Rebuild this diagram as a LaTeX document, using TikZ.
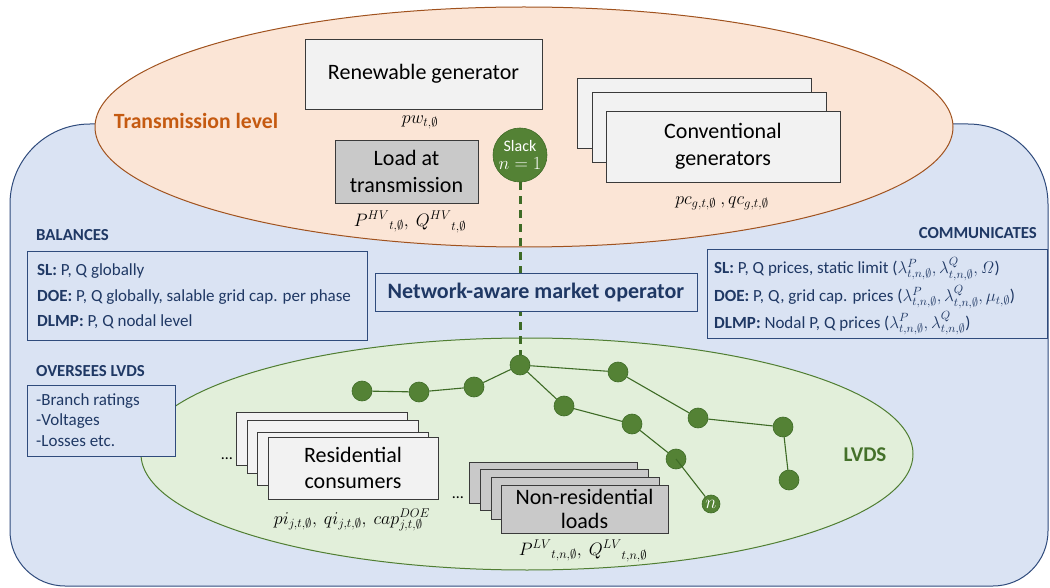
\RequirePackage{fix-cm}
\documentclass[tikz,border=0pt]{standalone}
\usepackage[no-math]{fontspec}
\setmainfont{Carlito}
\usetikzlibrary{shapes.geometric}
\definecolor{bgblue}{HTML}{DAE3F3}
\definecolor{navyline}{HTML}{2F4B7C}
\definecolor{navy}{HTML}{1F3864}
\definecolor{orfill}{HTML}{FBE5D6}
\definecolor{orline}{HTML}{A0521E}
\definecolor{ortext}{HTML}{C55A11}
\definecolor{grfill}{HTML}{E2EFDA}
\definecolor{grline}{HTML}{507E32}
\definecolor{nodegreen}{HTML}{548235}
\definecolor{nodedark}{HTML}{3E6B26}
\definecolor{lvdstext}{HTML}{44712A}
\definecolor{boxfill}{HTML}{F2F2F2}
\definecolor{grayfill}{HTML}{C9C9C9}
\definecolor{boxline}{HTML}{3A3A3A}
\tikzset{
  box/.style={draw=boxline, line width=0.9pt, fill=boxfill, align=center, inner sep=0pt, font=\fontsize{22}{26.5}\selectfont},
  graybox/.style={box, fill=grayfill},
  bus/.style={circle, fill=nodegreen, draw=nodedark, line width=0.6pt, minimum size=20pt, inner sep=0pt},
  branch/.style={draw=nodedark, line width=1.1pt},
  infobox/.style={draw=navyline, line width=0.9pt, fill=bgblue, inner sep=0pt},
  infotext/.style={text=navy, anchor=base west, inner sep=0pt, font=\fontsize{17}{20}\selectfont},
  heading/.style={text=navy, inner sep=0pt, font=\bfseries\fontsize{16.8}{19}\selectfont},
  mathlabel/.style={inner sep=0pt, font=\fontsize{18}{21}\selectfont},
  dots/.style={inner sep=0pt, font=\fontsize{16}{18}\selectfont},
}
\begin{document}
\begin{tikzpicture}[x=1pt,y=-1pt]
\useasboundingbox (0,0) rectangle (1050,588);
% outer blue region
\path[draw=navyline, line width=1pt, fill=bgblue]
  (90,124) -- (968,124) arc[start angle=90,end angle=0,radius=80pt]
  -- (1048,531) arc[start angle=0,end angle=-90,radius=55pt]
  -- (65,586) arc[start angle=-90,end angle=-180,radius=55pt]
  -- (10,204) arc[start angle=180,end angle=90,radius=80pt] -- cycle;
% transmission ellipse
\draw[fill=orfill, draw=orline, line width=1pt] (524,127) ellipse [x radius=429pt, y radius=120pt];
% LVDS ellipse
\draw[fill=grfill, draw=grline, line width=1pt] (527,454) ellipse [x radius=386pt, y radius=116pt];

\node[text=ortext, inner sep=0pt, font=\bfseries\fontsize{21.7}{24}\selectfont] (tl) at (196,121) {Transmission level};
\node[text=lvdstext, inner sep=0pt, font=\bfseries\fontsize{21}{24}\selectfont] (lvds) at (865,455) {LVDS};

% transmission level boxes
\node[box, minimum width=237pt, minimum height=70pt] (ren) at (423.5,74) {Renewable generator};
\node[mathlabel] (renlab) at (420,122) {$pw_{t,\emptyset}$};
\node[graybox, minimum width=143pt, minimum height=63pt] (load) at (406.5,171.5) {Load at\\transmission};
\node[mathlabel] (loadlab) at (410,222) {${P^{HV}}_{t,\emptyset},\ {Q^{HV}}_{t,\emptyset}$};
\node[box, minimum width=234pt, minimum height=70pt] (cg1) at (694,113) {};
\node[box, minimum width=234pt, minimum height=70pt] (cg2) at (709,127.5) {};
\node[box, minimum width=234pt, minimum height=71pt] (cg3) at (723,146.5) {Conventional\\generators};
\node[mathlabel] (cglab) at (722,203) {$pc_{g,t,\emptyset}\ , qc_{g,t,\emptyset}$};

% tree nodes
\node[bus] (b1) at (362,391) {};
\node[bus] (b2) at (419,392) {};
\node[bus] (b3) at (474,387) {};
\node[bus] (root) at (520,365) {};
\node[bus] (b5) at (618,372) {};
\node[bus] (b6) at (698,418) {};
\node[bus] (b7) at (783,427) {};
\node[bus] (b8) at (789,480) {};
\node[bus] (b9) at (564,406) {};
\node[bus] (b10) at (632,424) {};
\node[bus] (b11) at (676,459) {};
\node[bus, minimum size=18pt, text=white, font=\fontsize{19}{19}\selectfont] (bn) at (711,504) {$n$};
\draw[branch] (b1) -- (b2) -- (b3) -- (root) -- (b5) -- (b6) -- (b7) -- (b8);
\draw[branch] (root) -- (b9) -- (b10) -- (b11);
\draw[branch] (b11.center) -- (bn);

% slack bus and dashed link
\node[bus, minimum size=54pt, text=white, align=center, font=\fontsize{16}{18}\selectfont] (slack) at (520,155) {Slack\\{\fontsize{18.5}{18.5}\selectfont$n=1$}};
\draw[draw=nodedark, line width=3pt, dash pattern=on 8pt off 6pt] (slack.south) -- (root.north);

% market operator
\node[draw=navyline, line width=1pt, fill=bgblue, minimum width=322pt, minimum height=37pt, inner sep=0pt, text=navy, font=\bfseries\fontsize{22}{26}\selectfont] (nmo) at (536,292.5) {Network-aware market operator};

% residential consumers
\node[box, minimum width=171pt, minimum height=53pt] (rc1) at (321.5,438.5) {};
\node[box, minimum width=171pt, minimum height=53pt] (rc2) at (332.5,446.5) {};
\node[box, minimum width=171pt, minimum height=53pt] (rc3) at (342.5,458.5) {};
\node[box, minimum width=170pt, minimum height=62pt] (rc4) at (353,468) {Residential\\consumers};
\node[dots] (rcdots) at (227,459) {\ldots};
\node[mathlabel] (rclab) at (352,520) {$pi_{j,t,\emptyset},\ qi_{j,t,\emptyset},\ cap^{DOE}_{j,t,\emptyset}$};

% non-residential loads
\node[graybox, minimum width=168pt, minimum height=41pt] (nr1) at (553,482.5) {};
\node[graybox, minimum width=168pt, minimum height=41pt] (nr2) at (564,489.5) {};
\node[graybox, minimum width=168pt, minimum height=42pt] (nr3) at (575,498) {};
\node[graybox, minimum width=167pt, minimum height=48pt, font=\fontsize{22}{24.5}\selectfont] (nr4) at (584.5,509) {Non-residential\\loads};
\node[dots] (nrdots) at (458,498) {\ldots};
\node[mathlabel] (nrlab) at (583,551) {${P^{LV}}_{t,n,\emptyset},\ {Q^{LV}}_{t,n,\emptyset}$};

% balances
\node[heading, anchor=base west] (balh) at (36,241) {BALANCES};
\node[infobox, minimum width=340pt, minimum height=89pt] (balbox) at (197,295.5) {};
\node[infotext] (bal1) at (37,276) {\textbf{SL:} P, Q globally};
\node[infotext] (bal2) at (37,301.5) {\textbf{DOE:} P, Q globally, salable grid cap. per phase};
\node[infotext] (bal3) at (37,326.5) {\textbf{DLMP:} P, Q nodal level};

% oversees
\node[heading, anchor=base west] (ovh) at (36,376) {OVERSEES LVDS};
\node[infobox, minimum width=148pt, minimum height=71pt] (ovbox) at (101,420.5) {};
\node[infotext] (ov1) at (36,405) {-Branch ratings};
\node[infotext] (ov2) at (36,425.5) {-Voltages};
\node[infotext] (ov3) at (36,446) {-Losses etc.};

% communicates
\node[heading, anchor=base east] (cmh) at (1037,239) {COMMUNICATES};
\node[infobox, minimum width=340pt, minimum height=89pt] (cmbox) at (877,293.5) {};
\node[infotext] (cm1) at (714,273.5) {\textbf{SL:} P, Q prices, static limit ($\lambda^P_{t,n,\emptyset}, \lambda^Q_{t,n,\emptyset}, \mathit{\Omega}$)};
\node[infotext] (cm2) at (714,301.5) {\textbf{DOE:} P, Q, grid cap. prices ($\lambda^P_{t,n,\emptyset}, \lambda^Q_{t,n,\emptyset}, \mu_{t,\emptyset}$)};
\node[infotext] (cm3) at (714,328) {\textbf{DLMP:} Nodal P, Q prices ($\lambda^P_{t,n,\emptyset}, \lambda^Q_{t,n,\emptyset}$)};
\end{tikzpicture}
\end{document}
